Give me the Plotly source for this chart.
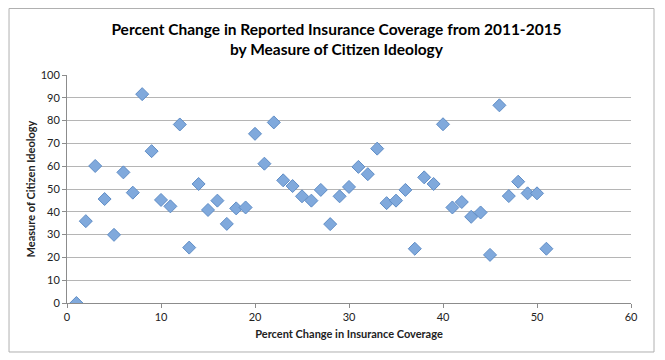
import plotly.graph_objects as go

x_vals = list(range(1, 52))
y_vals = [0, 35.9, 60.1, 45.6, 29.9, 57.3, 48.4, 91.6, 66.6, 45.2,
          42.4, 78.3, 24.3, 52.2, 40.8, 44.9, 34.7, 41.5, 41.9, 74.2,
          61.1, 79.2, 53.8, 51.3, 46.8, 44.9, 49.6, 34.6, 46.8, 50.9,
          59.7, 56.5, 67.7, 43.8, 44.9, 49.6, 23.8, 55.1, 52.2, 78.4,
          41.9, 44.3, 37.8, 39.7, 21.1, 86.7, 46.9, 53.2, 48.1, 48.1,
          23.8]

title_text = "Percent Change in Reported Insurance Coverage from 2011-2015<br>by Measure of Citizen Ideology"
x_title = "Percent Change in Insurance Coverage"
y_title = "Measure of Citizen Ideology"

FONT = "Lato, Open Sans, sans-serif"

fig = go.Figure()
fig.add_trace(go.Scatter(
    x=x_vals, y=y_vals, mode="markers",
    marker=dict(symbol="diamond", size=10, color="#80A9DC",
                line=dict(color="#5F8DC6", width=1)),
    showlegend=False,
))

fig.update_layout(
    width=657, height=352,
    margin=dict(l=59, r=34, t=67, b=57),
    paper_bgcolor="white", plot_bgcolor="white",
    title=dict(text="<b>" + title_text + "</b>", x=0.5, xanchor="center",
               xref="container", yref="container",
               y=0.923, yanchor="middle",
               font=dict(family=FONT, size=15.5, color="#000000")),
    xaxis=dict(range=[0, 60], tickvals=[0, 10, 20, 30, 40, 50, 60],
               showgrid=False, zeroline=False,
               showline=True, linecolor="#8C8C8C", linewidth=1,
               ticks="outside", ticklen=4, tickcolor="#8C8C8C",
               tickfont=dict(family=FONT, size=11, color="#222222"),
               title=dict(text="<b>" + x_title + "</b>", standoff=8,
                          font=dict(family=FONT, size=11, color="#222222"))),
    yaxis=dict(range=[0, 100], tickvals=list(range(0, 101, 10)),
               showgrid=True, gridcolor="#B5B5B5", gridwidth=1,
               zeroline=False,
               showline=True, linecolor="#8C8C8C", linewidth=1,
               ticks="outside", ticklen=4, tickcolor="#8C8C8C",
               tickfont=dict(family=FONT, size=11, color="#222222"),
               title=dict(text="<b>" + y_title + "</b>", standoff=2,
                          font=dict(family=FONT, size=11, color="#222222"))),
    shapes=[dict(type="rect", xref="paper", yref="paper",
                 x0=-0.1028, x1=1.0408, y0=-0.2149, y1=1.2917,
                 line=dict(color="#B0B0B0", width=1), layer="below")],
)

fig.write_html("out.html")
